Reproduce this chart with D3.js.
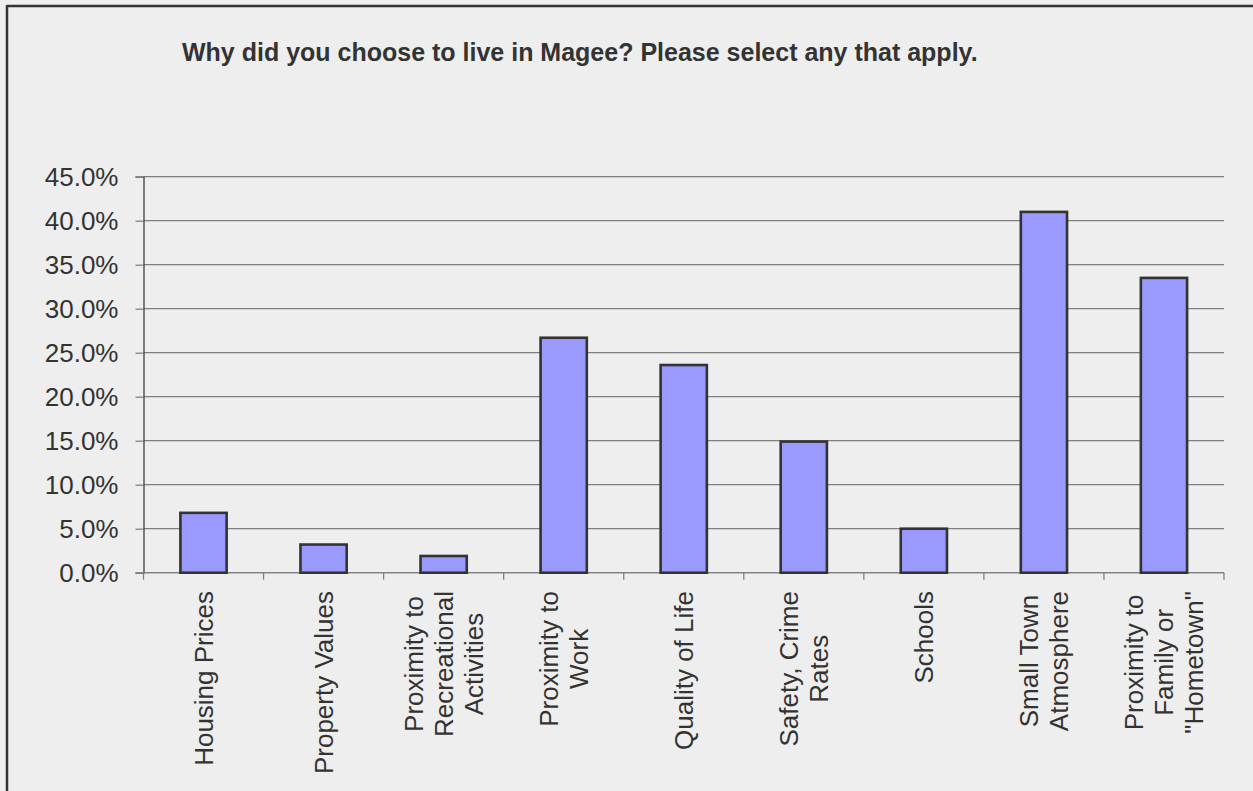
<!DOCTYPE html>
<html>
<head>
<meta charset="utf-8">
<script src="https://cdn.jsdelivr.net/npm/d3@7"></script>
<style>
  html, body { margin: 0; padding: 0; background: #eeeeee; }
  svg { display: block; }
  text { font-family: "Liberation Sans", Arial, sans-serif; fill: #333333; }
</style>
</head>
<body>
<svg id="chart" width="1253" height="791"></svg>
<script>
// Survey responses: share of respondents choosing each reason
const categories = [
  "Housing Prices",
  "Property Values",
  "Proximity to Recreational Activities",
  "Proximity to Work",
  "Quality of Life",
  "Safety, Crime Rates",
  "Schools",
  "Small Town Atmosphere",
  "Proximity to Family or \"Hometown\""
];
// Wrapped label lines for each category
const labelLines = [
  ["Housing Prices"],
  ["Property Values"],
  ["Proximity to", "Recreational", "Activities"],
  ["Proximity to", "Work"],
  ["Quality of Life"],
  ["Safety, Crime", "Rates"],
  ["Schools"],
  ["Small Town", "Atmosphere"],
  ["Proximity to", "Family or", "\"Hometown\""]
];
const values = [0.068, 0.032, 0.019, 0.267, 0.236, 0.149, 0.050, 0.410, 0.335];
const yTicks = [0, 0.05, 0.10, 0.15, 0.20, 0.25, 0.30, 0.35, 0.40, 0.45];
const titleText = "Why did you choose to live in Magee? Please select any that apply.";

const svg = d3.select("#chart");

// Background and frame
svg.append("rect").attr("x", 0).attr("y", 0).attr("width", 1253).attr("height", 791).attr("fill", "#eeeeee");
svg.append("line").attr("x1", 7).attr("x2", 1253).attr("y1", 6).attr("y2", 6)
  .attr("stroke", "#333333").attr("stroke-width", 2.5);
svg.append("line").attr("x1", 7).attr("x2", 7).attr("y1", 5).attr("y2", 791)
  .attr("stroke", "#333333").attr("stroke-width", 2.5);

// Title
svg.append("text")
  .attr("x", 182).attr("y", 61)
  .attr("font-size", 25).attr("font-weight", "bold")
  .text(titleText);

const plot = { left: 143.5, right: 1224, top: 176.7, bottom: 572.7 };

const x = d3.scaleBand()
  .domain(categories)
  .range([plot.left, plot.right])
  .padding(0);

const y = d3.scaleLinear()
  .domain([0, 0.45])
  .range([plot.bottom, plot.top]);

// Horizontal gridlines
svg.append("g")
  .selectAll("line")
  .data(yTicks)
  .join("line")
  .attr("x1", plot.left).attr("x2", plot.right)
  .attr("y1", d => y(d)).attr("y2", d => y(d))
  .attr("stroke", "#808080").attr("stroke-width", 1.3);

// Y axis
const yAxis = d3.axisLeft(y)
  .tickValues(yTicks)
  .tickSize(8)
  .tickPadding(17)
  .tickFormat(d3.format(".1%"));
const gy = svg.append("g").attr("transform", `translate(${plot.left},0)`).call(yAxis);
gy.select(".domain").attr("stroke", "#333333").attr("stroke-width", 1.2);
gy.selectAll(".tick line").attr("stroke", "#808080").attr("stroke-width", 1.3);
gy.selectAll(".tick text")
  .attr("font-size", 26)
  .attr("font-family", "Liberation Sans, Arial, sans-serif")
  .attr("fill", "#333333")
  .attr("dy", "0.35em");

// X axis baseline and boundary ticks
const boundaries = categories.map(c => x(c)).concat([plot.right]);
svg.append("line")
  .attr("x1", plot.left).attr("x2", plot.right)
  .attr("y1", y(0)).attr("y2", y(0))
  .attr("stroke", "#808080").attr("stroke-width", 1.3);
svg.append("g")
  .selectAll("line")
  .data(boundaries)
  .join("line")
  .attr("x1", d => d).attr("x2", d => d)
  .attr("y1", y(0)).attr("y2", y(0) + 7)
  .attr("stroke", "#808080").attr("stroke-width", 1.3);

// Bars
const barW = x.bandwidth() * 0.385;
svg.append("g")
  .selectAll("rect")
  .data(values)
  .join("rect")
  .attr("x", (d, i) => x(categories[i]) + x.bandwidth() / 2 - barW / 2)
  .attr("y", d => y(d))
  .attr("width", barW)
  .attr("height", d => y(0) - y(d))
  .attr("fill", "#9999ff")
  .attr("stroke", "#333333")
  .attr("stroke-width", 2.6);

// Rotated category labels, lines centred within each label block
const labelTop = 591;
const lineGap = 30;
const labels = svg.append("g");
labelLines.forEach((lines, i) => {
  const cx = x(categories[i]) + x.bandwidth() / 2;
  const g = labels.append("g")
    .attr("transform", `translate(${cx},${labelTop}) rotate(-90)`);
  const texts = g.selectAll("text")
    .data(lines)
    .join("text")
    .attr("font-size", 26)
    .attr("text-anchor", "middle")
    .attr("dy", "0.35em")
    .attr("y", (d, j) => (j - (lines.length - 1) / 2) * lineGap)
    .text(d => d);
  const maxLen = d3.max(texts.nodes(), n => n.getComputedTextLength());
  texts.attr("x", -maxLen / 2);
});
</script>
</body>
</html>
